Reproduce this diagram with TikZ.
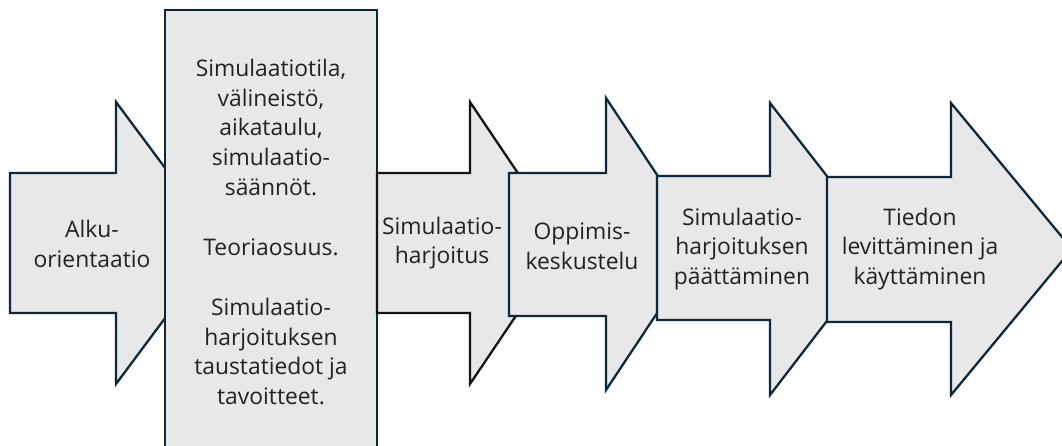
\documentclass[tikz,border=0pt]{standalone}
\usepackage{fontspec}
\setmainfont{Open Sans}
\definecolor{stagefill}{HTML}{E8E8E8}
\definecolor{edgeteal}{HTML}{0E2837}
\definecolor{edgedark}{HTML}{141414}
\definecolor{textgray}{HTML}{222222}
\tikzset{
    stage/.style={fill=stagefill,draw=edgeteal,line width=1.3pt,line join=miter},
    stagedark/.style={stage,draw=edgedark},
    stagetext/.style={text=textgray,align=center,inner sep=0pt,
        font=\fontsize{13}{17}\selectfont}
}

\begin{document}
\begin{tikzpicture}[x=0.02cm,y=-0.02cm]
    \useasboundingbox (0,0) rectangle (1062,446);
    \clip (0,0) rectangle (1062,446);
    % stage shapes, each one laid over the tip of the one before
    \draw[stage] (10,173) -- (116,173) -- (116,102) -- (221,243)
        -- (116,384) -- (116,313) -- (10,313) -- cycle;
    \draw[stage] (165,10) rectangle (377,460);
    \draw[stagedark] (377,173) -- (470,173) -- (470,102) -- (565,243)
        -- (470,384) -- (470,313) -- (377,313) -- cycle;
    \draw[stage] (509,173) -- (606,173) -- (606,98) -- (703,244)
        -- (606,390) -- (606,316) -- (509,316) -- cycle;
    \draw[stage] (657,176) -- (770,176) -- (770,103) -- (883,248)
        -- (770,395) -- (770,320) -- (657,320) -- cycle;
    \draw[stage] (827,177) -- (951,177) -- (951,103) -- (1072,249)
        -- (951,395) -- (951,322) -- (827,322) -- cycle;
    % texts
    \node[stagetext] (orient) at (92,244) {Alku-\\orientaatio};
    \node[stagetext] (prep) at (271,232) {Simulaatiotila,\\välineistö,\\aikataulu,\\simulaatio-\\säännöt.\\[17pt]Teoriaosuus.\\[17pt]Simulaatio-\\harjoituksen\\taustatiedot ja\\tavoitteet.};
    \node[stagetext] (exercise) at (442,243) {Simulaatio-\\harjoitus};
    \node[stagetext] (debrief) at (582,246) {Oppimis-\\keskustelu};
    \node[stagetext] (closing) at (742,249) {Simulaatio-\\harjoituksen\\päättäminen};
    \node[stagetext] (spread) at (920,249) {Tiedon\\levittäminen ja\\käyttäminen};
\end{tikzpicture}
\end{document}
